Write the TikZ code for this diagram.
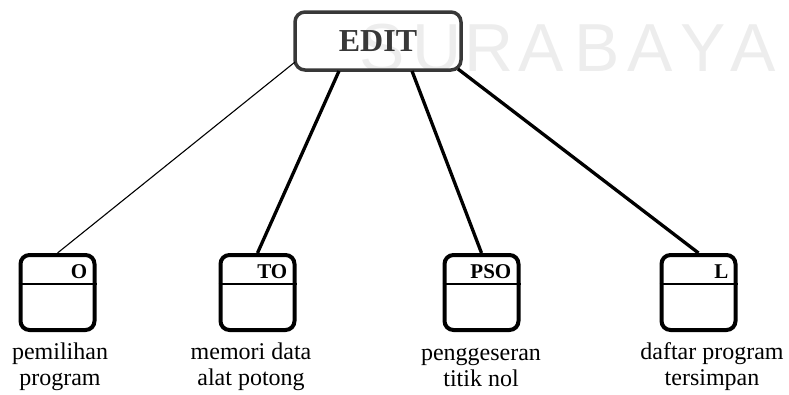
\documentclass[tikz,border=0pt]{standalone}
\usepackage{fontspec}
\setmainfont{Liberation Serif}
\newfontfamily\wmfont{Liberation Sans}
\begin{document}
\begin{tikzpicture}[x=1pt,y=-1pt,
  mainbox/.style={draw=black!78,line width=3.5pt,rounded corners=10pt,
    minimum width=166pt,minimum height=58pt,inner sep=0pt,
    text=black!78,font=\fontsize{32}{32}\selectfont\bfseries},
  modbox/.style={draw,line width=4pt,rounded corners=9pt,
    minimum width=74pt,minimum height=75pt,inner sep=0pt},
  modtag/.style={anchor=east,inner sep=0pt,font=\fontsize{21}{21}\selectfont\bfseries},
  caption/.style={align=center,inner sep=0pt,font=\fontsize{24}{26}\selectfont},
  thinlink/.style={line width=1.1pt},
  thicklink/.style={line width=3.3pt}]
\useasboundingbox (0,0) rectangle (789,394);

% faint background lettering
\foreach \ch/\xx in {S/382,U/437,R/489,A/541,B/597,A/650,Y/703,A/753}
  \node[text=black!7,font=\wmfont\fontsize{68}{68}\selectfont,inner sep=0pt] at (\xx,48) {\ch};

% top module
\node[mainbox] (edit) at (378,41) {EDIT};

% sub-modules
\node[modbox] (o)   at (57.5,292.5)  {};
\node[modbox] (to)  at (257.5,292.5) {};
\node[modbox] (pso) at (481.5,292.5) {};
\node[modbox] (l)   at (698.5,292.5) {};

\foreach \b/\t in {o/O,to/TO,pso/PSO,l/L}{
  \draw[line width=2.5pt] (\b.west |- 0,284) -- (\b.east |- 0,284);
  \node[modtag] (\b tag) at ([xshift=-9pt]\b.east |- 0,272) {\t};
}

% captions
\node[caption] (ocap)   at (60,367)  {pemilihan\\program};
\node[caption] (tocap)  at (251,367) {memori data\\alat potong};
\node[caption] (psocap) at (481,367) {penggeseran\\titik nol};
\node[caption] (lcap)   at (712,367) {daftar program\\tersimpan};

% connectors
\coordinate (e1) at (295,62);
\coordinate (e2) at (339,71);
\coordinate (e3) at (412,71);
\coordinate (e4) at (458,69);
\draw[thinlink]  (e1) -- (o.north);
\draw[thicklink] (e2) -- (to.north);
\draw[thicklink] (e3) -- (pso.north);
\draw[thicklink] (e4) -- (l.north);
\end{tikzpicture}
\end{document}
